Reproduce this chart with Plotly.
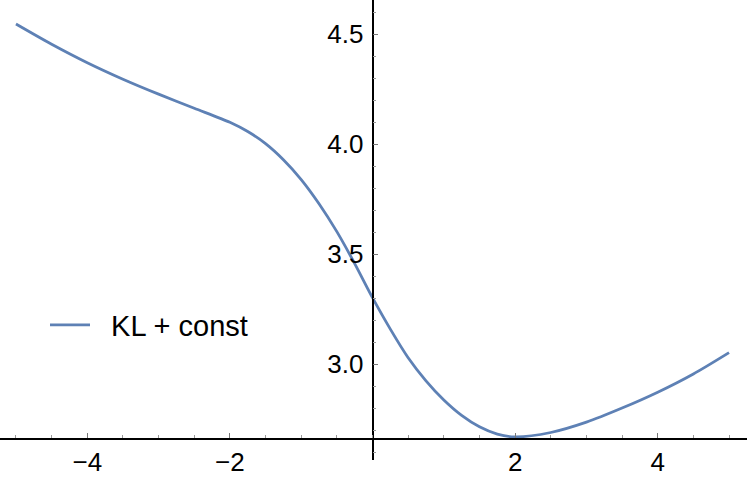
import plotly.graph_objects as go

x_vals = [-5, -4.5, -4, -3.5, -3, -2.5, -2, -1.75, -1.5, -1.25, -1, -0.75, -0.5, -0.25,
          0, 0.25, 0.5, 0.75, 1, 1.25, 1.5, 1.75, 2, 2.5, 3, 3.5, 4, 4.5, 5]
y_vals = [4.547, 4.455, 4.371, 4.296, 4.228, 4.164, 4.100, 4.058, 4.003, 3.930, 3.840, 3.730, 3.603, 3.458,
          3.303, 3.160, 3.030, 2.925, 2.838, 2.768, 2.716, 2.683, 2.670, 2.690, 2.737, 2.801, 2.873, 2.956, 3.053]
series_name = "\u00a0\u00a0KL + const"

x_tickvals = [-4, -2, 2, 4]
x_ticktext = ["\u22124", "\u22122", "2", "4"]
y_tickvals = [3.0, 3.5, 4.0, 4.5]
y_ticktext = ["3.0", "3.5", "4.0", "4.5"]

W, H = 747, 479
x_range = [-5.224, 5.252]
y_range = [2.565, 4.656]
y_cross = 2.662
y_dom0 = 19 / H

fig = go.Figure()
fig.add_trace(go.Scatter(
    x=x_vals, y=y_vals, mode="lines", name=series_name,
    line=dict(color="#5E81B5", width=2.8, shape="spline", smoothing=0.8),
    showlegend=True,
))

font = dict(family="Liberation Sans, Arial, sans-serif", size=26, color="black")
leg_font = dict(family="Liberation Sans, Arial, sans-serif", size=29, color="black")

x_pos = y_dom0 + (y_cross - y_range[0]) / (y_range[1] - y_range[0]) * (1 - y_dom0)
y_pos = (0 - x_range[0]) / (x_range[1] - x_range[0])

fig.update_layout(
    width=W, height=H,
    margin=dict(l=0, r=0, t=0, b=0, pad=0),
    paper_bgcolor="white", plot_bgcolor="white",
    font=font,
    xaxis=dict(
        range=x_range, domain=[0, 1], anchor="free", position=x_pos,
        automargin=False,
        showgrid=False, zeroline=False,
        showline=True, linecolor="black", linewidth=1.8,
        tickmode="array", tickvals=x_tickvals, ticktext=x_ticktext,
        ticks="inside", ticklen=5, tickwidth=1, tickcolor="#777",
        minor=dict(tickmode="linear", tick0=0, dtick=0.5, ticks="inside",
                   ticklen=3, tickwidth=1, tickcolor="#999", showgrid=False),
        tickfont=font,
    ),
    yaxis=dict(
        range=y_range, domain=[y_dom0, 1], anchor="free", position=y_pos,
        automargin=False,
        showgrid=False, zeroline=False,
        showline=True, linecolor="black", linewidth=1.8,
        tickmode="array", tickvals=y_tickvals, ticktext=y_ticktext,
        ticks="inside", ticklen=5, tickwidth=1, tickcolor="#777",
        minor=dict(tickmode="linear", tick0=0, dtick=0.1, ticks="inside",
                   ticklen=3, tickwidth=1, tickcolor="#999", showgrid=False),
        tickfont=font, ticklabelstandoff=3,
    ),
    legend=dict(
        x=45 / W, y=1 - 325 / H, xanchor="left", yanchor="middle",
        bgcolor="rgba(0,0,0,0)", font=leg_font, itemwidth=40,
    ),
)

fig.write_html("out.html", config={"displayModeBar": False},
               post_script="document.body.style.margin='0';")
